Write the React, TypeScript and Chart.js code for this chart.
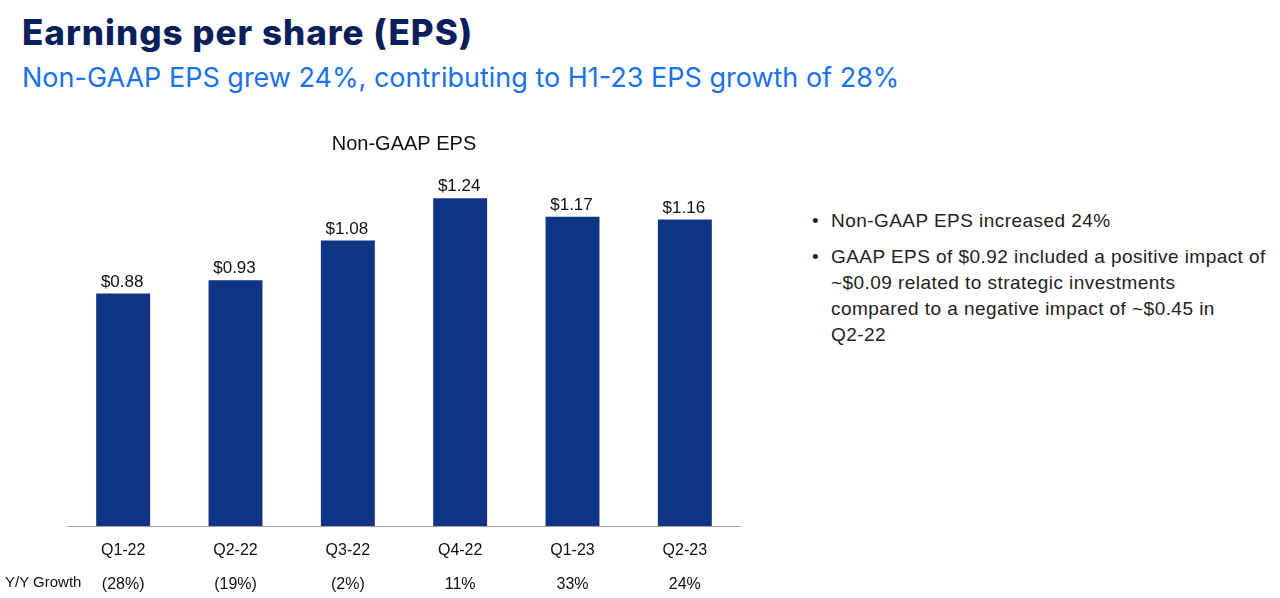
import React, { useEffect, useRef } from "react";
import { Chart, registerables } from "chart.js";

Chart.register(...registerables);

const categories = ["Q1-22", "Q2-22", "Q3-22", "Q4-22", "Q1-23", "Q2-23"];
const epsValues = [0.88, 0.93, 1.08, 1.24, 1.17, 1.16];
const growthLabels = ["(28%)", "(19%)", "(2%)", "11%", "33%", "24%"];
const yMax = 1.4;

const BAR_COLOR = "#0e3483";
const TEXT_FONT = "'Liberation Sans', Arial, Helvetica, sans-serif";

const valueLabelPlugin = {
  id: "valueLabels",
  afterDatasetsDraw(chart: any) {
    const ctx = chart.ctx;
    const meta = chart.getDatasetMeta(0);
    ctx.save();
    ctx.font = `17px ${TEXT_FONT}`;
    ctx.fillStyle = "#111111";
    ctx.textAlign = "center";
    ctx.textBaseline = "bottom";
    meta.data.forEach((bar: any, i: number) => {
      const v = chart.data.datasets[0].data[i] as number;
      ctx.fillText(`$${v.toFixed(2)}`, bar.x - 1, bar.y - 3);
    });
    ctx.restore();
  },
};

function EpsChart() {
  const ref = useRef<HTMLCanvasElement | null>(null);
  useEffect(() => {
    if (!ref.current) return;
    const chart = new Chart(ref.current, {
      type: "bar",
      data: {
        labels: categories.map((c, i) => [c, growthLabels[i]]),
        datasets: [
          {
            data: epsValues,
            backgroundColor: BAR_COLOR,
            barPercentage: 0.48,
            categoryPercentage: 1,
          },
        ],
      },
      options: {
        animation: false,
        responsive: true,
        maintainAspectRatio: false,
        layout: { padding: 0 },
        plugins: {
          legend: { display: false },
          tooltip: { enabled: false },
          title: {
            display: true,
            text: "Non-GAAP EPS",
            color: "#111111",
            font: { family: TEXT_FONT, size: 20, weight: "normal" },
            padding: { top: 1, bottom: 0 },
          },
        },
        scales: {
          x: {
            grid: { display: false, drawTicks: false },
            border: { display: true, color: "#a0a0a0", width: 1 },
            ticks: {
              color: "#111111",
              font: { family: TEXT_FONT, size: 16, lineHeight: 2.125 },
              padding: 8,
              maxRotation: 0,
              autoSkip: false,
            },
          },
          y: {
            display: false,
            min: 0,
            max: yMax,
          },
        },
      },
      plugins: [valueLabelPlugin],
    });
    return () => chart.destroy();
  }, []);
  return (
    <div style={{ position: "absolute", left: 67, top: 131, width: 674, height: 479 }}>
      <canvas ref={ref} />
    </div>
  );
}

export default function App() {
  return (
    <div
      style={{
        position: "absolute",
        left: 0,
        top: 0,
        width: 1280,
        height: 598,
        overflow: "hidden",
        background: "#ffffff",
        fontFamily: TEXT_FONT,
      }}
    >
      <div
        style={{
          position: "absolute",
          left: 22,
          top: 11,
          fontFamily: "Inter, sans-serif",
          fontWeight: 800,
          fontSize: 35,
          letterSpacing: 1,
          color: "#0b1f5c",
          whiteSpace: "nowrap",
          lineHeight: "42px",
        }}
      >
        Earnings per share (EPS)
      </div>
      <div
        style={{
          position: "absolute",
          left: 22,
          top: 61,
          fontFamily: "Inter, sans-serif",
          fontWeight: 400,
          fontSize: 27,
          color: "#1a73e8",
          whiteSpace: "nowrap",
          lineHeight: "34px",
        }}
      >
        Non-GAAP EPS grew 24%, contributing to H1-23 EPS growth of 28%
      </div>
      <EpsChart />
      <div
        style={{
          position: "absolute",
          left: 5,
          top: 572,
          fontSize: 15,
          color: "#111111",
          whiteSpace: "nowrap",
          lineHeight: "20px",
        }}
      >
        Y/Y Growth
      </div>
      <div
        style={{
          position: "absolute",
          left: 812,
          top: 208,
          fontSize: 19,
          letterSpacing: 0.45,
          color: "#222222",
          lineHeight: "26px",
          whiteSpace: "nowrap",
        }}
      >
        <div style={{ display: "flex" }}>
          <span style={{ width: 19, letterSpacing: 0 }}>•</span>
          <span>Non-GAAP EPS increased 24%</span>
        </div>
        <div style={{ display: "flex", marginTop: 10 }}>
          <span style={{ width: 19, letterSpacing: 0 }}>•</span>
          <span>
            GAAP EPS of $0.92 included a positive impact of
            <br />
            ~$0.09 related to strategic investments
            <br />
            compared to a negative impact of ~$0.45 in
            <br />
            Q2-22
          </span>
        </div>
      </div>
    </div>
  );
}
